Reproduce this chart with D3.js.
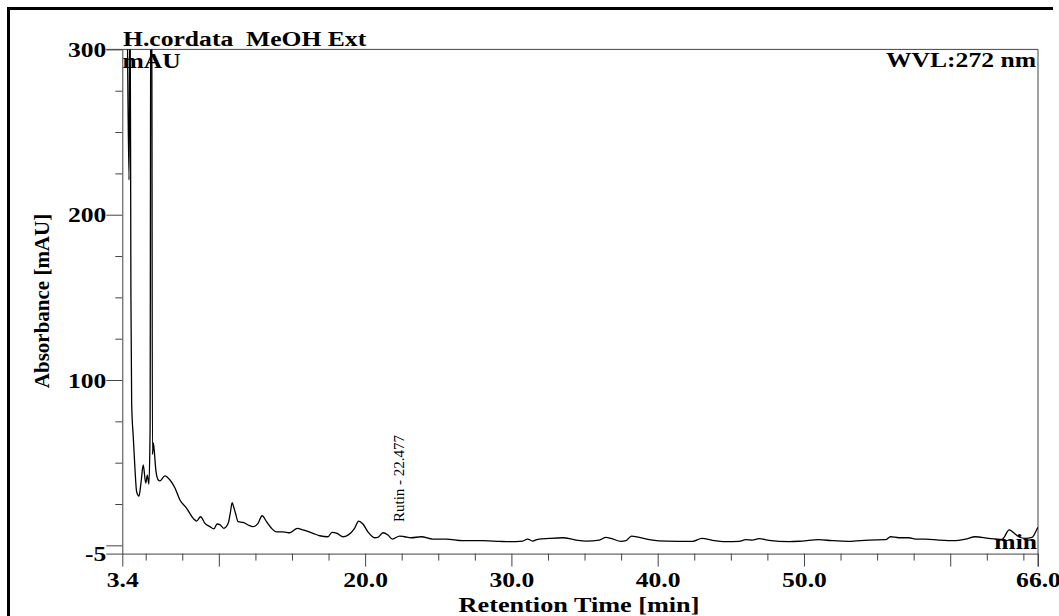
<!DOCTYPE html>
<html lang="en">
  <head>
    <meta charset="utf-8">
    <title>Chromatogram</title>
    <script type="text/javascript" src="https://cdn.jsdelivr.net/npm/d3@7"></script>
    <style>
      body { margin: 0; background: #fff; }
      text { font-family: "Liberation Serif", "Times New Roman", serif; fill: #000; }
    </style>
  </head>
  <body>
    <script type="text/javascript">
    var w = 1059;
    var h = 616;

    // chromatogram (min, mAU); values above 300 run off the top
    var retention = [3.40, 3.70, 3.86, 3.93, 3.99, 4.04, 4.15, 4.27, 4.38, 4.54, 4.68, 4.83, 5.00, 5.11, 5.22, 5.30, 5.35, 5.41, 5.46, 5.52,
      5.58, 5.70, 5.86, 5.97, 6.31, 6.66, 7.00, 7.34, 7.80, 8.25, 8.48, 8.75, 9.05, 9.39, 9.66, 9.88, 10.07, 10.34, 10.64, 10.79,
      10.91, 11.02, 11.14, 11.32, 11.66, 12.00, 12.34, 12.68, 12.96, 13.26, 13.60, 13.94, 14.39, 14.85, 15.37, 15.76, 16.44, 16.90, 17.46, 17.73,
      18.08, 18.49, 18.83, 19.28, 19.56, 19.85, 20.19, 20.65, 20.87, 21.22, 21.56, 21.86, 22.36, 22.70, 23.15, 23.84, 24.63, 25.54, 26.68, 28.04,
      29.18, 29.86, 30.77, 31.11, 31.45, 31.80, 32.59, 33.50, 34.42, 35.10, 36.01, 36.47, 36.81, 37.49, 37.83, 38.21, 38.74, 39.65, 40.56, 42.38,
      43.02, 43.74, 44.66, 45.56, 46.02, 46.47, 46.93, 47.61, 48.98, 49.88, 51.02, 51.93, 53.07, 54.44, 55.58, 55.92, 56.49, 57.17, 57.63, 58.31,
      59.22, 60.36, 61.04, 61.72, 62.63, 63.54, 64.04, 64.34, 64.68, 65.13, 65.59, 65.90, 66.00];
    var absorbance = [360, 340, 221, 345, 150, 86, 65.5, 45.6, 32.4, 29.8, 38, 48.6, 37.7, 42.5, 37, 70, 360, 360, 55, 62,
      57.6, 45, 39.5, 39, 42, 39.5, 34.7, 27.4, 22.4, 16.3, 14.7, 17.3, 13.3, 11.3, 10, 12.9, 12.5, 10.3, 13.3, 20,
      25.8, 23, 19.4, 14.3, 13.9, 12.3, 11.3, 13.3, 17.9, 14.3, 10.3, 8.2, 8.2, 7.6, 10.3, 9.3, 7.3, 5.8, 5.2, 7.9,
      7.3, 5.2, 6.2, 10.3, 14.7, 12.9, 8.2, 4.6, 4.8, 7.6, 6.2, 3.8, 5.6, 5.2, 4.6, 5.2, 3.8, 3.8, 2.8, 2.8,
      2.4, 2.2, 2.6, 3.8, 2.6, 3.6, 4.2, 4.6, 3.2, 2.6, 3.2, 4.8, 4.2, 2.4, 2.8, 5.6, 4.8, 3.2, 2.6, 2.4,
      4.2, 3, 2.2, 2.4, 3.4, 3.2, 4, 3, 2.2, 2.6, 3.4, 2.8, 2.4, 3.2, 3.4, 5.2, 4.6, 4.6, 3.8, 3.8,
      3.2, 2.8, 3.8, 5.2, 4.2, 3.6, 9.3, 7.6, 5.2, 4.2, 4.8, 9.3, 11];

    var peakNames = ["Rutin - 22.477"];
    var peakTimes = [22.477];

    var xMajor = [3.4, 10, 20, 30, 40, 50, 60, 66];
    var xLabels = [3.4, 20, 30, 40, 50, 66];
    var xMinor = [5, 7.5, 12.5, 15, 17.5, 22.5, 25, 27.5, 32.5, 35, 37.5, 42.5, 45, 47.5, 52.5, 55, 57.5, 62.5, 65];
    var yMajor = [-5, 0, 100, 200, 300];
    var yLabels = [-5, 100, 200, 300];
    var yMinor = [25, 50, 75, 125, 150, 175, 225, 250, 275];

    var sx = 1.22; // horizontal text in the picture is stretched
    var pLeft = 122.3, pRight = 1038, pTop = 49.4, pBottom = 553.6;

    var xscale = d3.scaleLinear().domain([3.4, 66]).range([pLeft, pRight]);
    var yscale = d3.scaleLinear().domain([-5, 300]).range([pBottom, pTop]);

    var svg = d3.select("body").append("svg").attr("width", w).attr("height", h);

    // outer frame
    svg.append("path").attr("d", "M8.5,616 V8.5 H1053").attr("fill", "none")
      .attr("stroke", "#000").attr("stroke-width", 3);

    // plot box top and right
    svg.append("path")
      .attr("d", "M" + (pLeft - 16) + "," + pTop + " H" + pRight + " V" + (pBottom + 13))
      .attr("fill", "none").attr("stroke", "#444").attr("stroke-width", 1);

    svg.append("clipPath").attr("id", "plot").append("rect")
      .attr("x", pLeft).attr("y", pTop).attr("width", pRight - pLeft).attr("height", pBottom - pTop);

    var points = retention.map(function(t, i) { return [t, absorbance[i]]; });
    var line = d3.line()
      .x(function(d) { return xscale(d[0]); })
      .y(function(d) { return yscale(d[1]); })
      .curve(d3.curveMonotoneX);
    svg.append("path").datum(points)
      .attr("clip-path", "url(#plot)")
      .attr("d", line)
      .attr("fill", "none").attr("stroke", "#000").attr("stroke-width", 1.3);

    // x axis
    var xAxis = d3.axisBottom(xscale).tickValues(xMajor).tickSize(13).tickSizeOuter(0)
      .tickFormat(function(d) { return xLabels.indexOf(d) >= 0 ? d.toFixed(1) : ""; });
    var gx = svg.append("g").attr("transform", "translate(0," + pBottom + ")").call(xAxis);
    svg.append("g").attr("transform", "translate(0," + pBottom + ")")
      .call(d3.axisBottom(xscale).tickValues(xMinor).tickSize(7).tickSizeOuter(0).tickFormat(""))
      .select(".domain").remove();
    gx.selectAll("text")
      .attr("y", 0).attr("dy", 0)
      .attr("transform", "translate(0,33) scale(" + sx + ",1)")
      .style("font-size", "21px").style("font-weight", "bold");

    // y axis
    var yAxis = d3.axisLeft(yscale).tickValues(yMajor).tickSize(16).tickSizeOuter(0)
      .tickFormat(function(d) { return yLabels.indexOf(d) >= 0 ? d : ""; });
    var gy = svg.append("g").attr("transform", "translate(" + pLeft + ",0)").call(yAxis);
    svg.append("g").attr("transform", "translate(" + pLeft + ",0)")
      .call(d3.axisLeft(yscale).tickValues(yMinor).tickSize(7).tickSizeOuter(0).tickFormat(""))
      .select(".domain").remove();
    gy.selectAll("text")
      .attr("x", 0).attr("dy", "0.34em")
      .attr("transform", "translate(-16,0) scale(" + sx + ",1)")
      .style("font-size", "21px").style("font-weight", "bold");

    svg.selectAll(".domain, .tick line").attr("stroke", "#444");

    function label(txt, x, y, anchor, size) {
      return svg.append("text")
        .attr("transform", "translate(" + x + "," + y + ") scale(" + sx + ",1)")
        .attr("text-anchor", anchor)
        .style("font-size", size + "px").style("font-weight", "bold")
        .style("white-space", "pre")
        .text(txt);
    }
    label("H.cordata  MeOH Ext", 123, 46, "start", 21);
    label("mAU", 122.5, 68, "start", 21);
    label("WVL:272 nm", 1036, 67, "end", 21);
    label("min", 1037, 549, "end", 21);
    label("Retention Time [min]", 579, 612, "middle", 21.5);

    svg.append("text")
      .attr("transform", "translate(49,301) rotate(-90)")
      .attr("text-anchor", "middle")
      .style("font-size", "21px").style("font-weight", "bold")
      .text("Absorbance [mAU]");

    // peak annotation
    peakNames.forEach(function(name, i) {
      svg.append("text")
        .attr("transform", "translate(" + (xscale(peakTimes[i]) + 3) + ",522) rotate(-90)")
        .attr("text-anchor", "start")
        .style("font-size", "15px")
        .text(name);
    });
    </script>
  </body>
</html>
